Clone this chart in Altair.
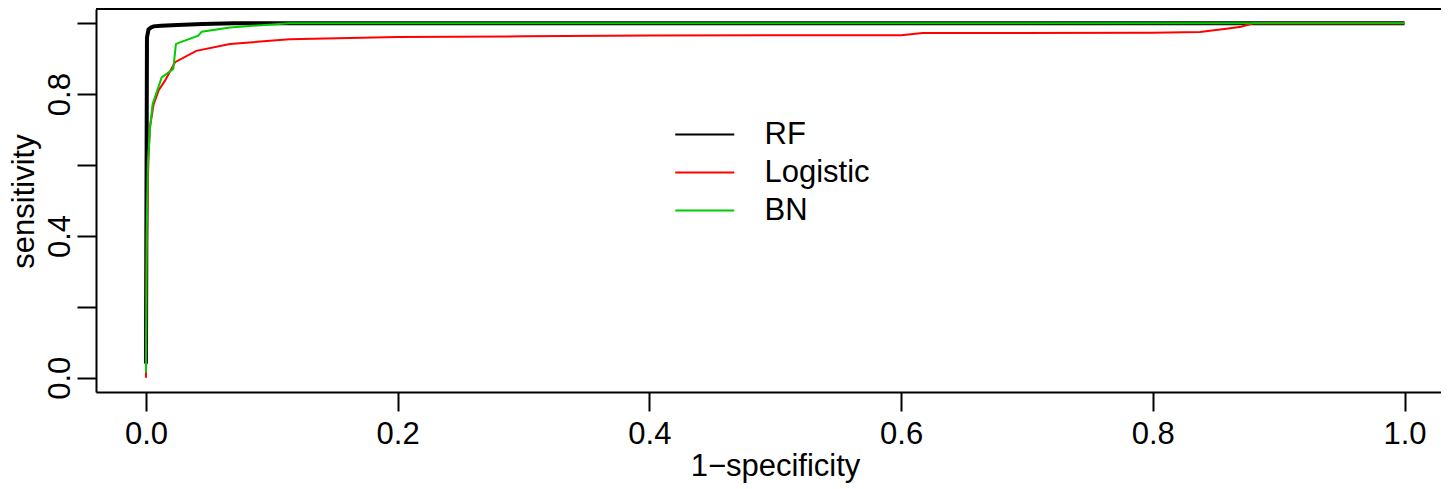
import altair as alt
import pandas as pd

# ---- data ----
series_names = ["RF", "Logistic", "BN"]
series_colors = ["#000000", "#FF0000", "#00CD00"]

rf_x = [0.0, 0.0008, 0.002, 0.004, 0.006, 0.012, 0.025, 0.045, 0.07, 1.0]
rf_y = [0.04, 0.96, 0.982, 0.988, 0.991, 0.993, 0.995, 0.998, 1.0, 1.0]

logit_x = [0.0, 0.0005, 0.0015, 0.002, 0.0032, 0.006, 0.01, 0.0151, 0.0231, 0.04,
           0.0667, 0.114, 0.2, 0.3, 0.4, 0.5, 0.6, 0.617, 0.8, 0.8375, 0.86, 0.87, 0.88, 1.0]
logit_y = [0.0, 0.3, 0.55, 0.62, 0.707, 0.77, 0.81, 0.838, 0.89, 0.922,
           0.941, 0.955, 0.961, 0.963, 0.965, 0.966, 0.966, 0.972, 0.973, 0.975, 0.985, 0.99, 1.0, 1.0]

bn_x = [0.0, 0.0005, 0.0015, 0.0032, 0.0053, 0.0125, 0.0217, 0.0238, 0.027, 0.0416,
        0.0443, 0.0667, 0.114, 1.0]
bn_y = [0.015, 0.4, 0.6, 0.706, 0.772, 0.847, 0.871, 0.941, 0.946, 0.965,
        0.976, 0.988, 1.0, 1.0]

x_ticks = [0.0, 0.2, 0.4, 0.6, 0.8, 1.0]
y_ticks = [0.0, 0.2, 0.4, 0.6, 0.8, 1.0]

rows = []
for name, xs, ys in [("RF", rf_x, rf_y), ("Logistic", logit_x, logit_y), ("BN", bn_x, bn_y)]:
    for i, (a, b) in enumerate(zip(xs, ys)):
        rows.append({"series": name, "fpr": a, "tpr": b, "order": i})
df = pd.DataFrame(rows)

FONT = "Liberation Sans"
FS = 31
W = 1345
H = 383

x_scale = alt.Scale(domain=[-0.0397, 1.0290], nice=False, zero=False)
y_scale = alt.Scale(domain=[-0.04, 1.04], nice=False, zero=False)
color_scale = alt.Scale(domain=series_names, range=series_colors)

x_enc = alt.X("fpr:Q", scale=x_scale,
              axis=alt.Axis(values=x_ticks, format=".1f", title="1\u2212specificity",
                            grid=False, tickSize=19, tickWidth=2, tickColor="black",
                            domainColor="black", domainWidth=2,
                            labelFont=FONT, labelFontSize=FS, labelColor="black",
                            labelBaseline="alphabetic", labelPadding=32,
                            labelFlush=False, labelOverlap=False,
                            titleFont=FONT, titleFontSize=FS, titleFontWeight="normal",
                            titleColor="black", titleBaseline="alphabetic",
                            titleX=679, titleY=83, titleAnchor="middle", titleAlign="center"))
y_enc = alt.Y("tpr:Q", scale=y_scale,
              axis=alt.Axis(values=y_ticks, title="sensitivity",
                            labelExpr="round(datum.value*10) % 4 == 0 ? format(datum.value, '.1f') : ''",
                            grid=False, tickSize=19, tickWidth=2, tickColor="black",
                            domainColor="black", domainWidth=2,
                            labelFont=FONT, labelFontSize=FS, labelColor="black",
                            labelAngle=-90, labelAlign="center", labelBaseline="alphabetic",
                            labelPadding=8, labelFlush=False, labelOverlap=False,
                            titleFont=FONT, titleFontSize=FS, titleFontWeight="normal",
                            titleColor="black", titleAngle=-90, titleBaseline="alphabetic",
                            titleAlign="center", titleX=-63, titleY=192))

color_enc = alt.Color("series:N", scale=color_scale, sort=series_names,
                      legend=alt.Legend(title=None, orient="none", legendX=592.75, legendY=109.5,
                                        symbolType="M-2,0H2", symbolSize=870,
                                        symbolStrokeWidth=2, labelFont=FONT,
                                        labelFontSize=FS, labelColor="black",
                                        labelOffset=43.75, rowPadding=7, padding=0))

layers = []
widths = {"RF": 4, "Logistic": 2, "BN": 2}
for name in series_names:
    layers.append(
        alt.Chart(df).transform_filter(alt.datum.series == name)
        .mark_line(strokeWidth=widths[name], interpolate="linear", clip=True)
        .encode(x=x_enc, y=y_enc, color=color_enc, order="order:Q")
    )

top_border = alt.Chart(pd.DataFrame({"a": [0]})).mark_rule(color="black", strokeWidth=2).encode(
    x=alt.value(0), x2=alt.value(W), y=alt.value(0)
)

chart = alt.layer(*layers, top_border).properties(
    width=W, height=H,
    autosize=alt.AutoSizeParams(type="none"),
    padding={"left": 88, "top": 1, "right": 0, "bottom": 95},
).configure_view(stroke=None).configure(background="white")

chart.save("out.html", embed_options={"renderer": "svg", "actions": False})
